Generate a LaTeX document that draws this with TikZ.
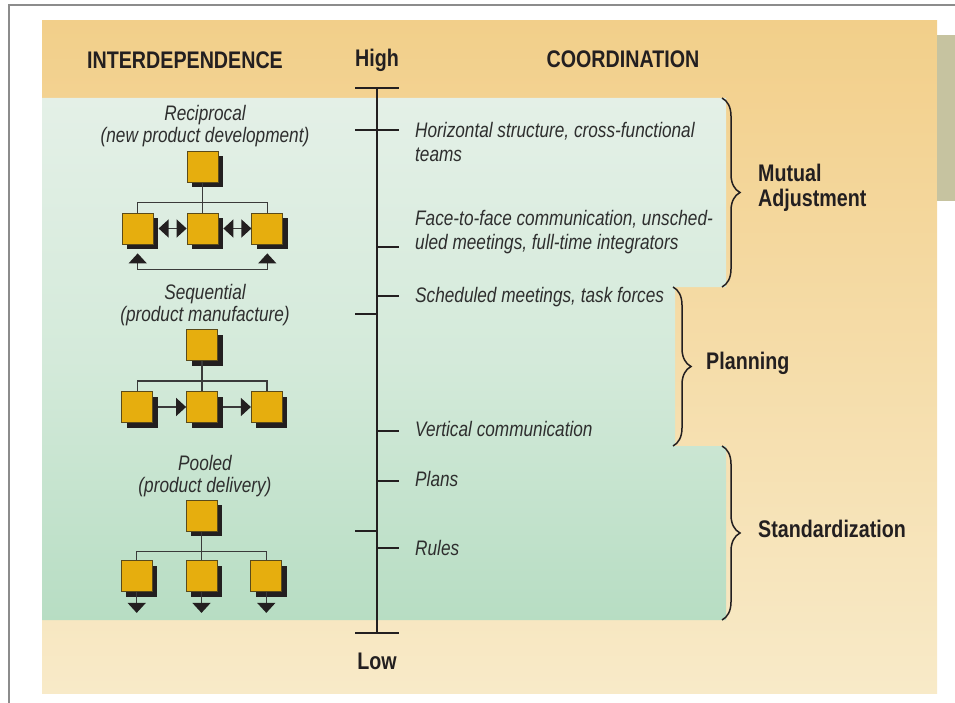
\documentclass[tikz,border=0pt]{standalone}
\usepackage{fontspec}
\setmainfont[FakeStretch=0.82]{Liberation Sans}
\usetikzlibrary{arrows.meta,positioning,calc,shadows,decorations.pathreplacing}
\definecolor{hdrc}{HTML}{F2CF8A}
\definecolor{sandc}{HTML}{F8EAC8}
\definecolor{mintc}{HTML}{E4F0E7}
\definecolor{leafc}{HTML}{D4EADA}
\definecolor{sagec}{HTML}{B7DDC3}
\definecolor{goldc}{HTML}{E6AE0E}
\definecolor{olivc}{HTML}{5A4A1A}
\definecolor{inkc}{HTML}{231F20}
\definecolor{linec}{HTML}{3A3A3A}
\definecolor{txtc}{HTML}{2E2E2E}
\definecolor{tabc}{HTML}{C6C3A0}
\definecolor{framec}{HTML}{8C8C8C}
\newcommand{\headfont}{\fontsize{24}{25}\selectfont\bfseries}
\newcommand{\itemfont}{\fontsize{21}{24}\selectfont\itshape}
\newcommand{\kindfont}{\fontsize{21}{22}\selectfont\itshape}

\begin{document}
\begin{tikzpicture}[x=1pt,y=-1pt,
      unitbox/.style={draw=olivc,fill=goldc,line width=0.8pt,minimum size=31pt,inner sep=0pt,
        drop shadow={shadow xshift=5pt,shadow yshift=-5pt,fill=inkc,opacity=1}},
      lnk/.style={draw=linec,line width=1.4pt},
      axisln/.style={draw=inkc,line width=2pt},
      brc/.style={draw=inkc,line width=1.5pt,decorate,decoration={brace,amplitude=18pt}},
      hdr/.style={font=\headfont,text=inkc,inner sep=0pt,anchor=base},
      grp/.style={font=\headfont,text=inkc,inner sep=0pt,anchor=base west,align=left},
      item/.style={font=\itemfont,text=txtc,inner sep=0pt,anchor=base west,align=left},
      kind/.style={font=\kindfont,text=txtc,inner sep=0pt,anchor=base,align=center},
      node distance=33pt,
      >={Triangle[width=18pt,length=10pt,color=inkc]}]
    \useasboundingbox (0,0) rectangle (955,703);
    % background panels
    \shade[top color=hdrc,bottom color=sandc] (42,21) rectangle (937,693);
    \fill[tabc] (937,35) rectangle (955,201);
    \shade[top color=mintc,bottom color=sagec,middle color=leafc]
      (42,98) -- (726,98) -- (726,287) -- (675,287) -- (675,446) -- (726,446) -- (726,620) -- (42,620) -- cycle;
    \draw[framec,line width=1.5pt] (9,703) -- (9,5) -- (955,5);

    % headings
    \node[hdr] (dep) at (185,69) {INTERDEPENDENCE};
    \node[hdr] (high) at (377,67) {High};
    \node[hdr] (coord) at (623,68) {COORDINATION};
    \node[hdr] (low) at (377,669) {Low};

    % scale
    \coordinate (top) at (377,88);
    \coordinate (bot) at (377,633);
    \draw[axisln] (top) -- (bot);
    \draw[axisln] (355,88) -- (399,88);
    \draw[axisln] (355,633) -- (399,633);
    \foreach \y in {130,314,531} \draw[axisln] (355,\y) -- (377,\y);
    \foreach \y in {130,247,296,431,481,548} \draw[axisln] (377,\y) -- (399,\y);

    % coordination devices (base = last line)
    \node[item] (hor) at (415,162) {Horizontal structure, cross-functional\\teams};
    \node[item] (face) at (415,250) {Face-to-face communication, unsched-\\uled meetings, full-time integrators};
    \node[item] (sched) at (415,302) {Scheduled meetings, task forces};
    \node[item] (vert) at (415,436) {Vertical communication};
    \node[item] (plans) at (415,486) {Plans};
    \node[item] (rules) at (415,555) {Rules};

    % groups
    \draw[brc] (722,98) -- (722,287);
    \draw[brc] (673,287) -- (673,446);
    \draw[brc] (722,446) -- (722,620);
    \node[grp] (mut) at (758,207) {Mutual\\Adjustment};
    \node[grp] (plan) at (706,369) {Planning};
    \node[grp] (std) at (758,537) {Standardization};

    % reciprocal
    \node[kind] (rlab) at (205,143) {Reciprocal\\(new product development)};
    \node[unitbox] (r2) at (202.5,228.5) {};
    \node[unitbox,left=of r2] (r1) {};
    \node[unitbox,right=of r2] (r3) {};
    \node[unitbox,above=30pt of r2] (r0) {};
    \draw[lnk] (r0) -- (r2);
    \draw[lnk] (r1.north) -- ++(0,-10) -| (r3.north);
    \draw[lnk,<->,shorten <=5pt] (r1.east) -- (r2.west);
    \draw[lnk,<->,shorten <=5pt] (r2.east) -- (r3.west);
    \draw[lnk,<->,shorten <=9pt,shorten >=9pt] (r1.south) -- ++(0,25) -| (r3.south);

    % sequential
    \node[kind] (slab) at (205,321) {Sequential\\(product manufacture)};
    \node[unitbox] (s2) at (202,407) {};
    \node[unitbox,left=of s2] (s1) {};
    \node[unitbox,right=of s2] (s3) {};
    \node[unitbox,above=30pt of s2] (s0) {};
    \draw[lnk] (s0) -- (s2);
    \draw[lnk] (s1.north) -- ++(0,-10) -| (s3.north);
    \draw[lnk,->,shorten <=5pt] (s1.east) -- (s2.west);
    \draw[lnk,->,shorten <=5pt] (s2.east) -- (s3.west);

    % pooled
    \node[kind] (plab) at (205,492) {Pooled\\(product delivery)};
    \node[unitbox] (p2) at (201.5,576) {};
    \node[unitbox,left=of p2] (p1) {};
    \node[unitbox,right=of p2] (p3) {};
    \node[unitbox,above=28.5pt of p2] (p0) {};
    \draw[lnk] (p0) -- (p2);
    \draw[lnk] (p1.north) -- ++(0,-8.5) -| (p3.north);
    \draw[lnk,->] (p1.south) -- ++(0,21);
    \draw[lnk,->] (p2.south) -- ++(0,21);
    \draw[lnk,->] (p3.south) -- ++(0,21);
  \end{tikzpicture}
\end{document}
